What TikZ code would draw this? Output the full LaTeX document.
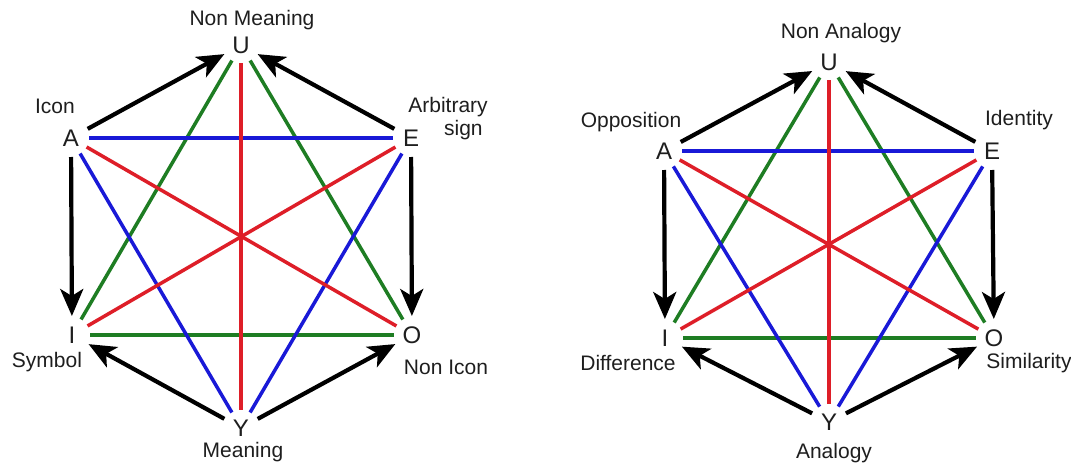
\documentclass[tikz,border=0pt]{standalone}
\usepackage{fontspec}
\setmainfont{Liberation Sans}
\usetikzlibrary{arrows.meta}
\definecolor{lred}{RGB}{222,30,40}
\definecolor{lgreen}{RGB}{30,125,35}
\definecolor{lblue}{RGB}{25,25,215}
\definecolor{ink}{RGB}{30,30,30}
\newcommand\hexlines[1]{%
  \draw[gl] (#1U.center) -- (#1I.center);
  \draw[gl] (#1U.center) -- (#1O.center);
  \draw[gl] (#1I.center) -- (#1O.center);
  \draw[bl] (#1A.center) -- (#1E.center);
  \draw[bl] (#1A.center) -- (#1Y.center);
  \draw[bl] (#1E.center) -- (#1Y.center);
  \draw[rl] (#1U.center) -- (#1Y.center);
  \draw[rl] (#1A.center) -- (#1O.center);
  \draw[rl] (#1E.center) -- (#1I.center);
  \draw[arr] (#1A.center) -- (#1U.center);
  \draw[arr] (#1E.center) -- (#1U.center);
  \draw[arr] (#1A.center) -- (#1I.center);
  \draw[arr] (#1E.center) -- (#1O.center);
  \draw[arr] (#1Y.center) -- (#1I.center);
  \draw[arr] (#1Y.center) -- (#1O.center);
}
\begin{document}
\begin{tikzpicture}[x=1pt,y=-1pt,
  vlet/.style={font=\fontsize{24}{24}\selectfont, text=ink, inner sep=0pt},
  lab/.style={font=\fontsize{21}{23}\selectfont, text=ink, inner sep=0pt},
  col/.style={line width=3.5pt, shorten <=18pt, shorten >=18pt},
  rl/.style={col, draw=lred},
  gl/.style={col, draw=lgreen},
  bl/.style={col, draw=lblue},
  arr/.style={draw=black, line width=4.2pt, shorten <=19pt, shorten >=19pt,
    -{Stealth[length=27pt,width=23pt,inset=7pt]}},
]
\useasboundingbox[fill=white] (0,0) rectangle (1071,466);
% left hexagon
\node[vlet] (LU) at (241,45) {U};
\node[vlet] (LA) at (71,138) {A};
\node[vlet] (LE) at (411,138) {E};
\node[vlet] (LI) at (72,335) {I};
\node[vlet] (LO) at (412,335) {O};
\node[vlet] (LY) at (241,428) {Y};
\hexlines{L}
\node[lab] (l1) at (252,20) {Non Meaning};
\node[lab] (l2) at (55,106) {Icon};
\node[lab, align=right] (l3) at (448,119) {Arbitrary\\sign\hspace*{5pt}};
\node[lab] (l4) at (47,362) {Symbol};
\node[lab] (l5) at (446,367) {Non Icon};
\node[lab] (l6) at (243,452) {Meaning};
% right hexagon
\node[vlet] (RU) at (829,62) {U};
\node[vlet] (RA) at (664,151) {A};
\node[vlet] (RE) at (992,151) {E};
\node[vlet] (RI) at (665,338) {I};
\node[vlet] (RO) at (994,338) {O};
\node[vlet] (RY) at (829,422) {Y};
\hexlines{R}
\node[lab] (r1) at (841,33) {Non Analogy};
\node[lab] (r2) at (631,122) {Opposition};
\node[lab] (r3) at (1019,120) {Identity};
\node[lab] (r4) at (628,363) {Difference};
\node[lab] (r5) at (1029,363) {Similarity};
\node[lab] (r6) at (834,453) {Analogy};
\end{tikzpicture}
\end{document}
